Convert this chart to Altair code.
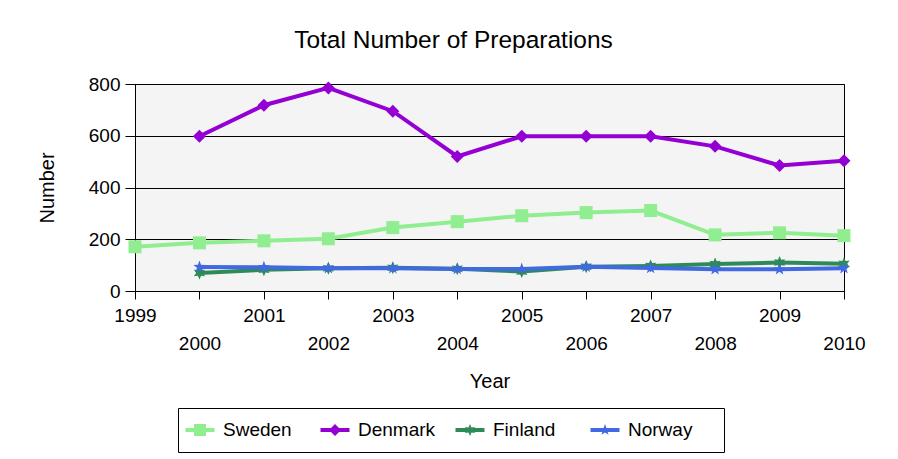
import altair as alt
import pandas as pd

years = [1999, 2000, 2001, 2002, 2003, 2004, 2005, 2006, 2007, 2008, 2009, 2010]
countries = ["Sweden", "Denmark", "Finland", "Norway"]
sweden = [171, 186, 194, 202, 245, 268, 291, 303, 311, 217, 225, 214]
denmark = [None, 598, 718, 785, 695, 520, 598, 598, 598, 559, 485, 503]
finland = [None, 70, 82, 88, 90, 86, 75, 94, 97, 104, 110, 105]
norway = [None, 93, 92, 88, 88, 85, 85, 94, 89, 84, 84, 88]
y_ticks = [0, 200, 400, 600, 800]

colors = ["#90EE90", "#9400D3", "#2E8B57", "#4169E1"]

marker_paths = [
    "M-1,-1H1V1H-1Z",
    "M0,-1L1,0L0,1L-1,0Z",
    "M0,-1L0.25,-0.433L0.866,-0.5L0.5,0L0.866,0.5L0.25,0.433L0,1L-0.25,0.433L-0.866,0.5L-0.5,0L-0.866,-0.5L-0.25,-0.433Z",
    "M0,-1L0.235,-0.324L0.951,-0.309L0.38,0.124L0.588,0.809L0,0.4L-0.588,0.809L-0.38,0.124L-0.951,-0.309L-0.235,-0.324Z",
]


def legend_path(marker, s=0.6, t=0.2, w=1.45):
    # horizontal bar plus a scaled-down marker
    import re
    toks = re.findall(r"[A-Za-z]|-?\d*\.?\d+", marker)
    p = ""
    for tok in toks:
        if tok.isalpha():
            p += tok
        else:
            val = str(round(float(tok) * s, 4))
            p += ("" if p[-1].isalpha() else ",") + val
    return f"M-{w},-{t}H{w}V{t}H-{w}Z" + p


legend_paths = [legend_path(m) for m in marker_paths]

rows = []
for c, vals in zip(countries, [sweden, denmark, finland, norway]):
    for yr, v in zip(years, vals):
        if v is not None:
            rows.append({"Country": c, "Year": yr, "Value": v})
df = pd.DataFrame(rows)

FONT = "Liberation Sans"

xenc = alt.X(
    "Year:Q",
    scale=alt.Scale(domain=[years[0], years[-1]], nice=False, zero=False),
    axis=alt.Axis(
        values=years,
        format="d",
        labelExpr="datum.value % 2 == 0 ? ['', datum.label] : datum.label",
        labelFlush=False,
        labelOverlap=False,
        labelFontSize=19,
        labelFont=FONT,
        labelColor="black",
        labelPadding=7,
        labelLineHeight=28,
        labelBaseline="top",
        tickSize=8,
        tickColor="black",
        domainColor="black",
        grid=False,
        title="Year",
        titleFont=FONT,
        titleFontSize=20,
        titleFontWeight="normal",
        titleColor="black",
        titleY=90,
        titleBaseline="middle",
    ),
)
yenc = alt.Y(
    "Value:Q",
    scale=alt.Scale(domain=[0, 800], nice=False),
    axis=alt.Axis(
        values=y_ticks,
        grid=True,
        gridColor="black",
        gridWidth=1,
        tickSize=10,
        tickColor="black",
        domainColor="black",
        labelFontSize=19,
        labelFont=FONT,
        labelColor="black",
        labelPadding=5,
        title="Number",
        titleFont=FONT,
        titleFontSize=20,
        titleFontWeight="normal",
        titleColor="black",
        titleX=-88,
        titleBaseline="middle",
    ),
)

base = alt.Chart(df)
layers = []
for c, col, path in zip(countries, colors, marker_paths):
    sub = base.transform_filter(alt.datum.Country == c)
    layers.append(sub.mark_line(color=col, strokeWidth=4).encode(x=xenc, y=yenc))
    layers.append(
        sub.mark_point(shape=path, filled=True, color=col, size=169, opacity=1, strokeWidth=0).encode(
            x=xenc, y=yenc
        )
    )

leg = alt.Legend(
    title=None,
    orient="none",
    legendX=43,
    legendY=324,
    direction="horizontal",
    columns=4,
    gridAlign="all",
    strokeColor="black",
    fillColor="white",
    padding=12,
    symbolSize=400,
    symbolStrokeWidth=0,
    symbolOpacity=1,
    labelFontSize=19,
    labelFont=FONT,
    labelColor="black",
    labelOffset=13,
    columnPadding=0,
    # blank (ink-free) padding after each label so every legend cell is as wide as the original's
    labelExpr="datum.label + '\u00a0\u2800'",
)
legend_layer = base.transform_filter("false").mark_point(filled=True, opacity=1).encode(
    x=xenc,
    y=yenc,
    color=alt.Color("Country:N", scale=alt.Scale(domain=countries, range=colors), legend=leg),
    shape=alt.Shape("Country:N", scale=alt.Scale(domain=countries, range=legend_paths), legend=leg),
)
layers.append(legend_layer)

chart = (
    alt.layer(*layers)
    .properties(
        width=709,
        height=207,
        title=alt.TitleParams(
            "Total Number of Preparations",
            fontSize=24.5,
            font=FONT,
            fontWeight="normal",
            color="black",
            anchor="middle",
            dx=-36,
            offset=22,
        ),
        autosize=alt.AutoSizeParams(type="none"),
        padding={"left": 127, "top": 76, "right": 40, "bottom": 165},
        background="white",
    )
    .configure_view(fill="#f4f4f4", stroke="black", strokeWidth=1)
)

chart.save("out.html", embed_options={"renderer": "svg", "actions": False})
